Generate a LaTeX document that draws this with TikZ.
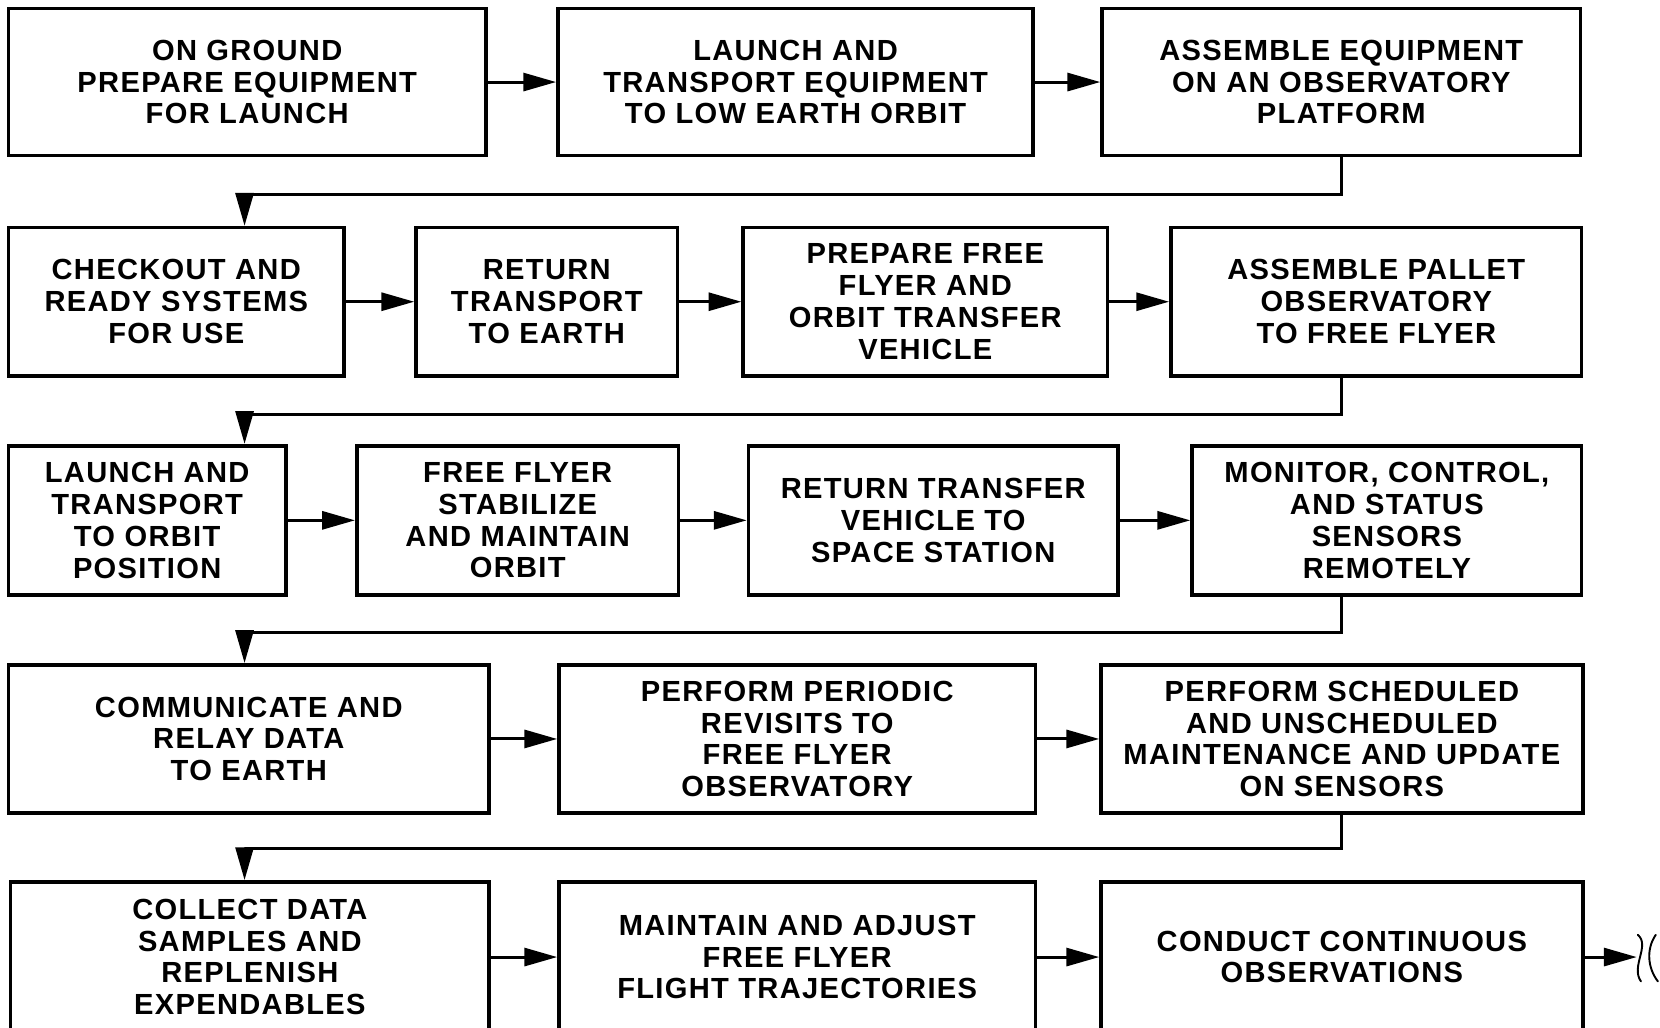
\documentclass[tikz,border=0pt]{standalone}
\usepackage{fontspec}
\setmainfont{Liberation Sans}[LetterSpace=4.5]
\usetikzlibrary{arrows.meta}
\begin{document}
\begin{tikzpicture}[x=1pt,y=-1pt,
  stepbox/.style={draw=black,line width=3.4pt,align=center,inner sep=0pt,
    font=\fontsize{27.5}{30}\selectfont\bfseries},
  flow/.style={line width=2.8pt,-{Triangle[length=31pt,width=17pt]}},
  brk/.style={line width=1.8pt,line cap=round}]
\useasboundingbox (0,0) rectangle (1568,971);
\clip (0,0) rectangle (1568,971);
\fill[white] (0,0) rectangle (1568,971);

% row 1
\node[stepbox,minimum width=451pt,minimum height=139pt] (A) at (233.5,77.5) {ON GROUND\\PREPARE EQUIPMENT\\FOR LAUNCH};
\node[stepbox,minimum width=449pt,minimum height=139pt] (B) at (751.5,77.5) {LAUNCH AND\\TRANSPORT EQUIPMENT\\TO LOW EARTH ORBIT};
\node[stepbox,minimum width=452pt,minimum height=139pt] (C) at (1267,77.5) {ASSEMBLE EQUIPMENT\\ON AN OBSERVATORY\\PLATFORM};

% row 2
\node[stepbox,minimum width=317pt,minimum height=140pt] (D) at (166.5,285) {CHECKOUT AND\\READY SYSTEMS\\FOR USE};
\node[stepbox,minimum width=247pt,minimum height=140pt] (E) at (516.5,285) {RETURN\\TRANSPORT\\TO EARTH};
\node[stepbox,minimum width=344pt,minimum height=140pt] (F) at (874,285) {PREPARE FREE\\FLYER AND\\ORBIT TRANSFER\\VEHICLE};
\node[stepbox,minimum width=388pt,minimum height=140pt] (G) at (1300,285) {ASSEMBLE PALLET\\OBSERVATORY\\TO FREE FLYER};

% row 3
\node[stepbox,minimum width=262pt,minimum height=141pt] (H) at (139,491.5) {LAUNCH AND\\TRANSPORT\\TO ORBIT\\POSITION};
\node[stepbox,minimum width=304pt,minimum height=141pt] (I) at (489,491.5) {FREE FLYER\\STABILIZE\\AND MAINTAIN\\ORBIT};
\node[stepbox,minimum width=349pt,minimum height=141pt] (J) at (881.5,491.5) {RETURN TRANSFER\\VEHICLE TO\\SPACE STATION};
\node[stepbox,minimum width=368pt,minimum height=141pt] (K) at (1310,491.5) {MONITOR, CONTROL,\\AND STATUS\\SENSORS\\REMOTELY};

% row 4
\node[stepbox,minimum width=454pt,minimum height=140pt] (L) at (235,698) {COMMUNICATE AND\\RELAY DATA\\TO EARTH};
\node[stepbox,minimum width=450pt,minimum height=140pt] (M) at (753,698) {PERFORM PERIODIC\\REVISITS TO\\FREE FLYER\\OBSERVATORY};
\node[stepbox,minimum width=455pt,minimum height=140pt] (N) at (1267.5,698) {PERFORM SCHEDULED\\AND UNSCHEDULED\\MAINTENANCE AND UPDATE\\ON SENSORS};

% row 5 (runs past the lower edge)
\node[stepbox,minimum width=452pt,minimum height=142pt] (O) at (236,904) {COLLECT DATA\\SAMPLES AND\\REPLENISH\\EXPENDABLES};
\node[stepbox,minimum width=450pt,minimum height=142pt] (P) at (753,904) {MAINTAIN AND ADJUST\\FREE FLYER\\FLIGHT TRAJECTORIES};
\node[stepbox,minimum width=455pt,minimum height=142pt] (Q) at (1267.5,904) {CONDUCT CONTINUOUS\\OBSERVATIONS};

% horizontal flow within rows
\draw[flow] (A) -- (B);
\draw[flow] (B) -- (C);
\draw[flow] (D) -- (E);
\draw[flow] (E) -- (F);
\draw[flow] (F) -- (G);
\draw[flow] (H) -- (I);
\draw[flow] (I) -- (J);
\draw[flow] (J) -- (K);
\draw[flow] (L) -- (M);
\draw[flow] (M) -- (N);
\draw[flow] (O) -- (P);
\draw[flow] (P) -- (Q);

% returns to the start of the next row
\draw[flow] (C.south) -- ++(0,35) -| ([xshift=64.5pt]D.north);
\draw[flow] ([xshift=-33pt]G.south) -- ++(0,35) -| ([xshift=92pt]H.north);
\draw[flow] ([xshift=-43pt]K.south) -- ++(0,34) -| ([xshift=-4pt]L.north);
\draw[flow] (N.south) -- ++(0,32) -| ([xshift=-5pt]O.north);

% continuation off the sheet
\coordinate (cont) at (1546,904);
\draw[flow] (Q.east) -- (cont);
\draw[brk] (1547,883) .. controls (1559,893) and (1540,913) .. (1550,927);
\draw[brk] (1564,883) .. controls (1555,896) and (1556,914) .. (1566,927);
\end{tikzpicture}
\end{document}
